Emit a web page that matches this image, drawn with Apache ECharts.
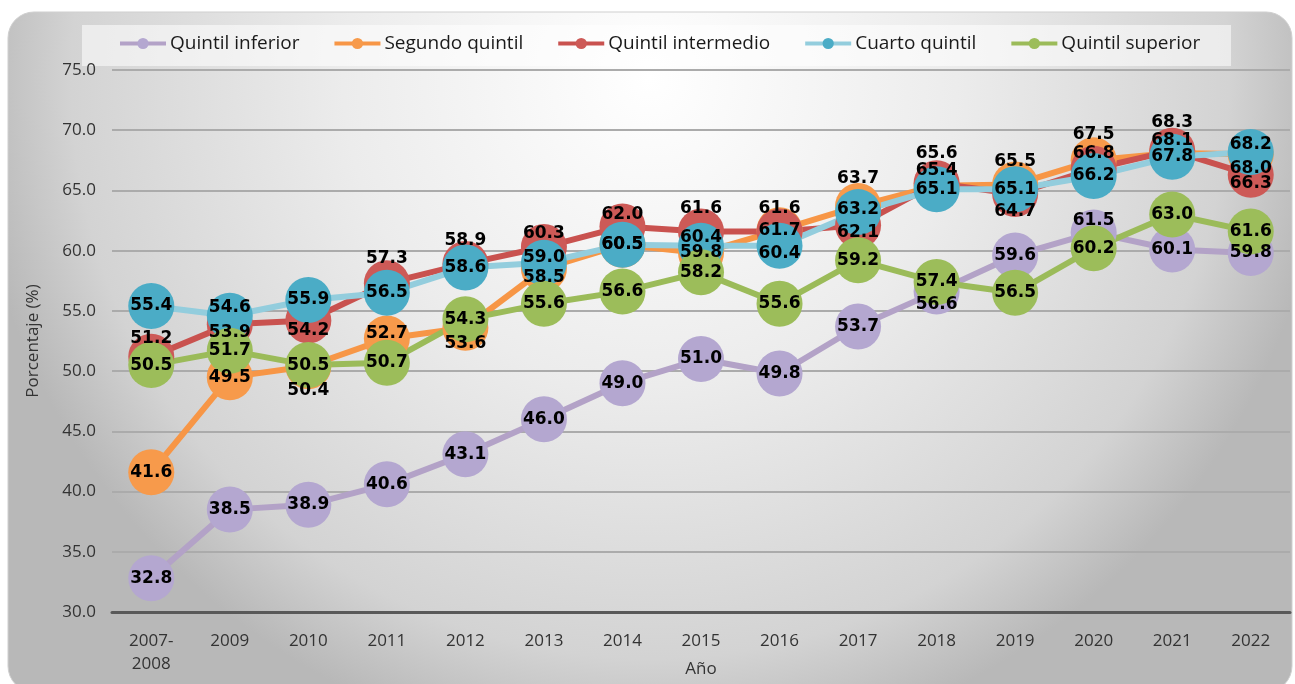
<!DOCTYPE html>
<html>
<head>
<meta charset="utf-8">
<script src="https://cdn.jsdelivr.net/npm/echarts@6/dist/echarts.min.js"></script>
<style>
  html, body { margin: 0; padding: 0; background: #fff; }
  #main { width: 1295px; height: 684px; }
</style>
</head>
<body>
<div id="main"></div>
<script>
// datos
const years = ['2007-2008', '2009', '2010', '2011', '2012', '2013', '2014', '2015',
  '2016', '2017', '2018', '2019', '2020', '2021', '2022'];
const names = ['Quintil inferior', 'Segundo quintil', 'Quintil intermedio', 'Cuarto quintil', 'Quintil superior'];

const inferior   = [32.8, 38.5, 38.9, 40.6, 43.1, 46.0, 49.0, 51.0, 49.8, 53.7, 56.6, 59.6, 61.5, 60.1, 59.8];
const segundo    = [41.6, 49.5, 50.4, 52.7, 53.6, 58.5, 60.5, 59.8, 61.7, 63.7, 65.4, 65.5, 67.5, 68.1, 68.0];
const intermedio = [51.2, 53.9, 54.2, 57.3, 58.9, 60.3, 62.0, 61.6, 61.6, 62.1, 65.6, 64.7, 66.8, 68.3, 66.3];
const cuarto     = [55.4, 54.6, 55.9, 56.5, 58.6, 59.0, 60.5, 60.4, 60.4, 63.2, 65.1, 65.1, 66.2, 67.8, 68.2];
const superior   = [50.5, 51.7, 50.5, 50.7, 54.3, 55.6, 56.6, 58.2, 55.6, 59.2, 57.4, 56.5, 60.2, 63.0, 61.6];

// colores: linea y marcador
const lineColors = ['#b3a2c7', '#f79646', '#c9524f', '#93cddd', '#9bbb59'];
const dotColors  = ['#b4a7d0', '#f79a4b', '#cd5a57', '#4bacc6', '#9cbd5a'];

// desplazamiento vertical de etiquetas (como en el original, para que no se tapen)
const labelDy = [
  [0, 0, 0, 0, 0, 0, 0, 0, 0, 0, 13, 0, -12, 0, 0],
  [0, 0, 24, -5, 16, 9, 0, 0, 0, -28, -15, -23, -26, -13, 14],
  [-18, 8, 10, -25, -23, -13, -12, -23, -23, 7, -30, 18, -15, -28, 9],
  [0, -8, 0, 0, 0, -5, 0, -8, 8, -3, 0, 0, 0, 0, -7],
  [0, 0, 0, 0, 0, 0, 0, 0, 0, 0, 0, 0, 0, 0, 0]
];

const values = [inferior, segundo, intermedio, cuarto, superior];

let series = values.map((vals, i) => ({
  name: names[i],
  type: 'line',
  data: vals.map((v, j) => ({ value: v, label: { offset: [0, labelDy[i][j]] } })),
  symbol: 'circle',
  symbolSize: 46,
  lineStyle: { color: lineColors[i], width: 6 },
  itemStyle: { color: dotColors[i] },
  label: {
    show: true,
    position: 'inside',
    color: '#000',
    fontFamily: 'DejaVu Sans',
    fontWeight: 'bold',
    fontSize: 17,
    formatter: p => p.value.toFixed(1)
  },
  emphasis: { disabled: true },
  animation: false
}));

let myChart = echarts.init(document.getElementById('main'));
let option = {
  animation: false,
  textStyle: { fontFamily: 'Open Sans' },
  graphic: [
    {
      type: 'rect', z: -20, silent: true,
      shape: { x: 8, y: 12, width: 1284, height: 680, r: 26 },
      style: {
        fill: {
          type: 'radial', x: 0.5, y: 0.1, r: 1,
          colorStops: [
            { offset: 0, color: '#ffffff' },
            { offset: 0.45, color: '#ececec' },
            { offset: 0.85, color: '#d3d3d3' },
            { offset: 1, color: '#b8b8b8' }
          ]
        },
        stroke: '#cfcfcf', lineWidth: 1
      }
    },
    {
      type: 'rect', z: -10, silent: true,
      shape: { x: 82, y: 25, width: 1149, height: 41 },
      style: { fill: 'rgba(255,255,255,0.55)' }
    }
  ],
  legend: {
    data: names,
    left: 118,
    top: 34,
    padding: 0,
    itemGap: 33,
    itemWidth: 46,
    itemHeight: 14,
    lineStyle: { width: 4 },
    textStyle: { fontFamily: 'Open Sans', fontSize: 19, color: '#1a1a1a', padding: [0, 0, 0, -1] }
  },
  grid: { left: 112, right: 5, top: 70, bottom: 72, outerBoundsMode: 'none', containLabel: false },
  xAxis: {
    type: 'category',
    data: years,
    name: 'Año',
    nameLocation: 'middle',
    nameGap: 49,
    nameMoveOverlap: false,
    nameTextStyle: { fontSize: 17, color: '#333' },
    axisLine: { lineStyle: { color: '#595959', width: 3 } },
    axisTick: { length: 6, lineStyle: { color: '#595959', width: 2 } },
    axisLabel: {
      margin: 18,
      fontSize: 17,
      color: '#333',
      lineHeight: 23,
      formatter: v => v.replace('-', '-\n')
    }
  },
  yAxis: {
    type: 'value',
    min: 30,
    max: 75,
    interval: 5,
    name: 'Porcentaje (%)',
    nameLocation: 'middle',
    nameGap: 70,
    nameMoveOverlap: false,
    nameTextStyle: { fontSize: 17, color: '#333' },
    axisLine: { show: false },
    axisTick: { show: false },
    axisLabel: { fontSize: 17, color: '#333', margin: 16, formatter: v => v.toFixed(1) },
    splitLine: { lineStyle: { color: '#ababab', width: 2 } }
  },
  series: series
};
myChart.setOption(option);
</script>
</body>
</html>
